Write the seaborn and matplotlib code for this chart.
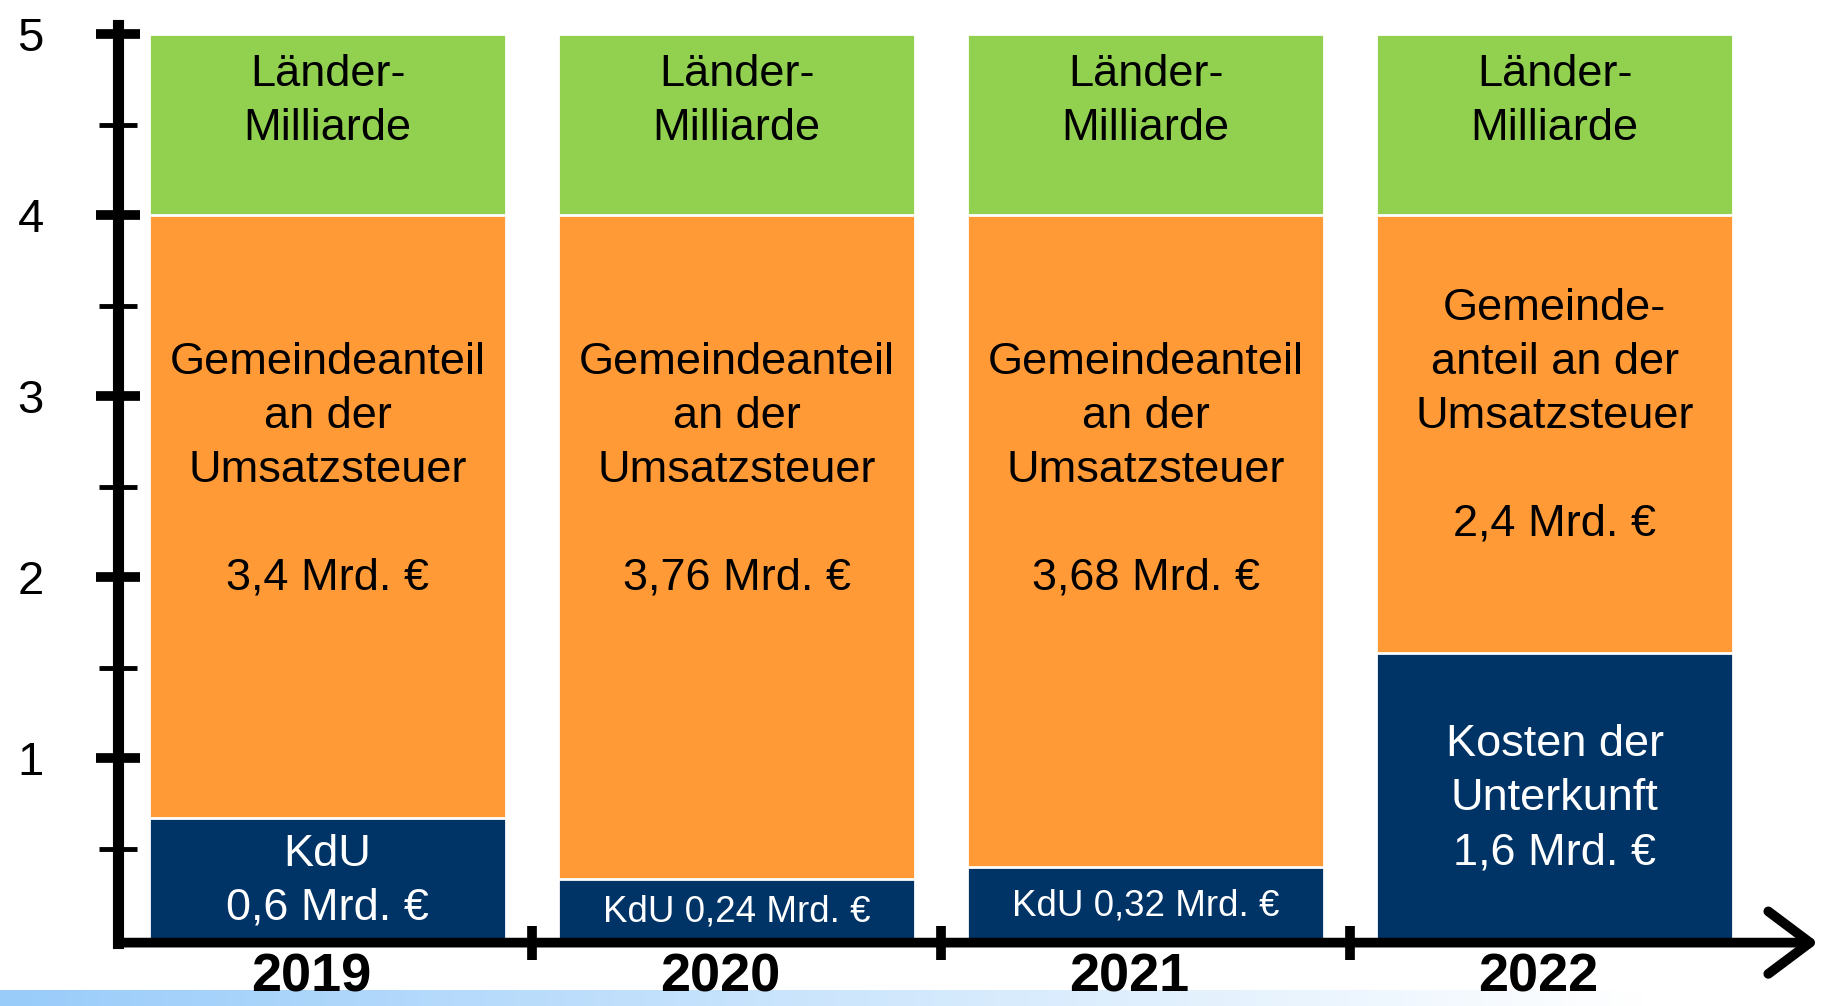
import numpy as np
import matplotlib
matplotlib.use('Agg')
import matplotlib.pyplot as plt
import seaborn as sns

# Daten (Mrd. €), Balkenhöhen
years = ['2019', '2020', '2021', '2022']
kdu = [0.67, 0.33, 0.40, 1.58]
gemeinde = [3.33, 3.67, 3.60, 2.42]
laender = [1.0, 1.0, 1.0, 1.0]

kdu_labels = ['KdU\n0,6 Mrd. €', 'KdU 0,24 Mrd. €', 'KdU 0,32 Mrd. €',
              'Kosten der\nUnterkunft\n1,6 Mrd. €']
gemeinde_labels = ['Gemeindeanteil\nan der\nUmsatzsteuer\n\n3,4 Mrd. €',
                   'Gemeindeanteil\nan der\nUmsatzsteuer\n\n3,76 Mrd. €',
                   'Gemeindeanteil\nan der\nUmsatzsteuer\n\n3,68 Mrd. €',
                   'Gemeinde-\nanteil an der\nUmsatzsteuer\n\n2,4 Mrd. €']
laender_label = 'Länder-\nMilliarde'

sns.set_style('white')
plt.rcParams['font.family'] = ['Liberation Sans', 'DejaVu Sans']

fig = plt.figure(figsize=(18.25, 10.06), dpi=100)

# hellblauer Streifen unten
strip = fig.add_axes([0, 0, 1, 0.016])
grad = np.linspace(0, 1, 500)
fade = np.clip(grad / 0.9, 0, 1)
rgb = np.stack([0.60 + 0.40 * fade, 0.80 + 0.20 * fade, 0.98 + 0.02 * fade], axis=-1)
strip.imshow(rgb[np.newaxis, :, :], aspect='auto', extent=(0, 1, 0, 1))
strip.axis('off')

ax = fig.add_axes([0.0647, 0.063, 0.9315, 0.912])

green = '#92D050'
orange = '#FF9A36'
navy = '#003366'

cum2 = [a + b for a, b in zip(kdu, gemeinde)]
cum3 = [a + b for a, b in zip(cum2, laender)]

# gestapelte Balken: von oben nach unten übermalen
sns.barplot(x=years, y=cum3, color=green, saturation=1, width=0.873,
            edgecolor='white', linewidth=2, ax=ax)
sns.barplot(x=years, y=cum2, color=orange, saturation=1, width=0.873,
            edgecolor='white', linewidth=2, ax=ax)
sns.barplot(x=years, y=kdu, color=navy, saturation=1, width=0.873,
            edgecolor='white', linewidth=2, ax=ax)

txt = dict(ha='center', va='center', fontsize=32.5, linespacing=1.4)
for i in range(len(years)):
    ax.text(i, cum2[i] + 0.63, laender_label, color='black', **txt)
    y_g = 2.59 if i < 3 else 2.89
    ax.text(i, y_g, gemeinde_labels[i], color='black', **txt)
    fs = 26.5 if '\n' not in kdu_labels[i] else 32.5
    ax.text(i, kdu[i] / 2 - 0.015, kdu_labels[i], color='white', ha='center',
            va='center', fontsize=fs, linespacing=1.4)

ax.set_xlim(-0.512, 3.644)
ax.set_ylim(-0.02, 5.05)
ax.set_xlabel('')
ax.set_ylabel('')

# Jahreszahlen
ax.set_xticks([i - 0.04 for i in range(len(years))])
ax.set_xticklabels(years, fontsize=39, fontweight='bold')
ax.set_xticks([0.5, 1.5, 2.5], minor=True)
ax.tick_params(axis='x', which='major', bottom=True, length=0, pad=7, labelcolor='black')
ax.tick_params(axis='x', which='minor', bottom=True, direction='inout',
               length=24, width=7, color='black')

ax.set_yticks([1, 2, 3, 4, 5])
ax.set_yticklabels(['1', '2', '3', '4', '5'], fontsize=34)
ax.set_yticks([0.5, 1.5, 2.5, 3.5, 4.5], minor=True)
ax.tick_params(axis='y', which='major', left=True, direction='inout', length=31,
               width=7, color='black', pad=38, labelcolor='black')
ax.tick_params(axis='y', which='minor', left=True, direction='inout', length=28,
               width=3.5, color='black')

for s in ['top', 'right', 'bottom']:
    ax.spines[s].set_visible(False)
ax.spines['left'].set_linewidth(8)
ax.spines['left'].set_color('black')

# x-Achse mit Pfeil
ax.annotate('', xy=(1, 0), xytext=(0, 0), xycoords='axes fraction',
            arrowprops=dict(arrowstyle='->,head_length=0.6,head_width=0.45',
                            lw=7, color='black', mutation_scale=50,
                            shrinkA=0, shrinkB=0), annotation_clip=False)

fig.savefig('out.png', dpi=100)
